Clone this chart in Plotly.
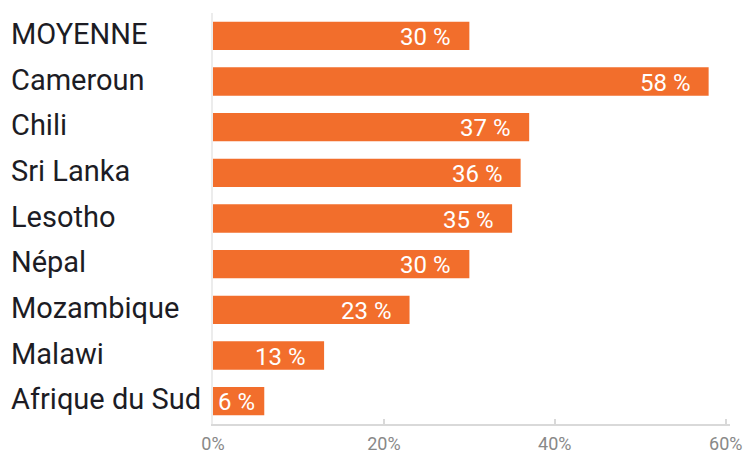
import plotly.graph_objects as go

# Share of respondents per country (percent)
countries = ["MOYENNE", "Cameroun", "Chili", "Sri Lanka", "Lesotho",
             "Népal", "Mozambique", "Malawi", "Afrique du Sud"]
values = [30, 58, 37, 36, 35, 30, 23, 13, 6]
tick_values = [0, 20, 40, 60]
tick_labels = ["0%", "20%", "40%", "60%"]

BAR_COLOR = "#F26E2C"
LABEL_COLOR = "#1c1c24"
AXIS_COLOR = "#d9d9d9"

W, H = 748, 456
M_L, M_R, M_T, M_B = 213, 18, 13, 32
plot_w = W - M_L - M_R
x_max = 60.5
px_per_unit = plot_w / x_max

VALUE_FONT = 24
# generous estimate of the rendered width of a "NN %" label
def label_width(v):
    return VALUE_FONT * (0.58 * len(str(v)) + 0.3 + 0.8)

fig = go.Figure(
    go.Bar(
        x=values,
        y=countries,
        orientation="h",
        marker=dict(color=BAR_COLOR, line=dict(width=0)),
        hoverinfo="skip",
    )
)

annotations = []
# Category names, left-aligned near the page edge
for c in countries:
    annotations.append(dict(
        x=-(M_L - 9) / plot_w, xref="paper", xanchor="left",
        y=c, yref="y", yanchor="middle", yshift=2,
        text=c, showarrow=False,
        font=dict(family="Roboto", size=29, color=LABEL_COLOR),
    ))
# Value labels inside the bar ends
for c, v in zip(countries, values):
    room = v * px_per_unit - label_width(v) - 4
    shift = -min(16, max(room, 0))
    annotations.append(dict(
        x=v, xref="x", xanchor="right", xshift=shift,
        y=c, yref="y", yanchor="middle", yshift=-1,
        text=f"{v} %", showarrow=False,
        font=dict(family="Roboto", size=VALUE_FONT, color="white"),
    ))

fig.update_layout(
    width=W, height=H,
    margin=dict(l=M_L, r=M_R, t=M_T, b=M_B, pad=0),
    paper_bgcolor="white", plot_bgcolor="white",
    bargap=0.38,
    showlegend=False,
    annotations=annotations,
    xaxis=dict(
        range=[0, x_max],
        tickvals=tick_values, ticktext=tick_labels,
        showgrid=False, zeroline=False,
        showline=True, linecolor=AXIS_COLOR, linewidth=1.5,
        ticks="inside", ticklen=5, tickcolor=AXIS_COLOR, tickwidth=1.5,
        tickfont=dict(family="Roboto", size=18, color="#888888"),
        ticklabelstandoff=3,
        automargin=False,
        fixedrange=True,
    ),
    yaxis=dict(
        categoryorder="array", categoryarray=countries[::-1],
        showticklabels=False, showgrid=False, zeroline=False,
        showline=True, linecolor="#ececec", linewidth=1.5,
        ticks="", automargin=False, fixedrange=True,
    ),
)

fig.write_html("out.html", config={"displayModeBar": False})
